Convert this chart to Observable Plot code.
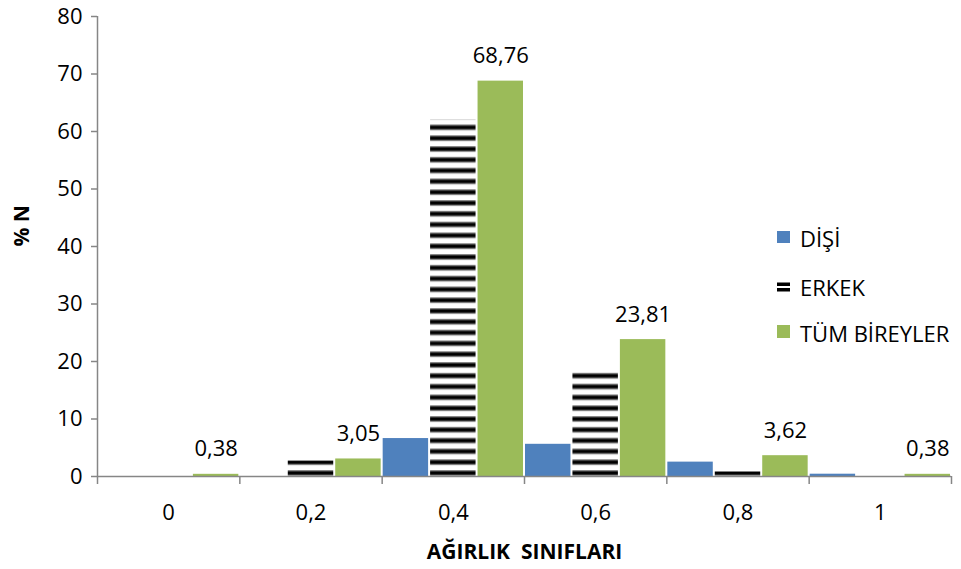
<!DOCTYPE html>
<html>
<head>
<meta charset="utf-8">
<script src="https://cdn.jsdelivr.net/npm/d3@7"></script>
<script src="https://cdn.jsdelivr.net/npm/@observablehq/plot@0.6"></script>
<style>
  body { margin: 0; background: #fff; font-family: "Open Sans", sans-serif; }
  #chart { position: relative; width: 961px; height: 569px; }
  .legend-swatch { position: absolute; left: 777px; }
  .legend-text { position: absolute; left: 800px; font-size: 22px; line-height: 24px; color: #000; white-space: nowrap; }
</style>
</head>
<body>
<div id="chart"></div>
<script>
// Weight classes (x axis) and the share of individuals (% N) in each class
const classes = ["0", "0,2", "0,4", "0,6", "0,8", "1"];
const seriesNames = ["DİŞİ", "ERKEK", "TÜM BİREYLER"];
const disi = [0, 0, 6.6, 5.6, 2.5, 0.4];
const erkek = [0, 2.7, 62, 18.5, 0.8, 0];
const tumBireyler = [0.38, 3.05, 68.76, 23.81, 3.62, 0.38];
const yTicks = [0, 10, 20, 30, 40, 50, 60, 70, 80];

const blue = "#4F81BD";
const green = "#9BBB59";
const axisGray = "#868686";

// one row per (class, series); each class is split into three equal slots
const rows = (values, si) => values.map((value, ci) => ({
  cls: classes[ci], ci, si, series: seriesNames[si], value,
  x1: ci + si / 3, x2: ci + (si + 1) / 3
}));
const disiRows = rows(disi, 0);
const erkekRows = rows(erkek, 1);
const tumRows = rows(tumBireyler, 2);

const barOpts = {x1: "x1", x2: "x2", y: "value", insetLeft: 1, insetRight: 1};
const fmt = v => v.toFixed(2).replace(".", ",");

const chart = Plot.plot({
  width: 961,
  height: 569,
  marginLeft: 97,
  marginRight: 10,
  marginTop: 16,
  marginBottom: 93,
  style: {fontFamily: '"Open Sans", sans-serif', fontSize: "22px", color: "#000", background: "#fff"},
  x: {domain: [0, classes.length], axis: null},
  y: {domain: [0, 80], axis: null},
  marks: [
    Plot.rectY(disiRows, {...barOpts, fill: blue}),
    Plot.rectY(erkekRows, {...barOpts, fill: "url(#erkek-stripes)"}),
    Plot.rectY(tumRows, {...barOpts, fill: green}),
    Plot.text(tumRows, {
      x: d => (d.x1 + d.x2) / 2, y: "value", text: d => fmt(d.value),
      dy: -25, lineAnchor: "middle", fill: "#000"
    }),
    // y axis
    Plot.ruleX([0], {stroke: axisGray, strokeWidth: 1.5}),
    Plot.axisY(yTicks, {tickSize: 6, tickPadding: 9, stroke: axisGray, strokeWidth: 1.5, fill: "#000", label: null}),
    // x axis: ticks on class boundaries, labels centred in each class
    Plot.ruleY([0], {stroke: axisGray, strokeWidth: 1.5}),
    Plot.axisX(d3.range(0, classes.length + 1), {tickSize: 8, stroke: axisGray, strokeWidth: 1.5, tickFormat: () => "", label: null}),
    Plot.axisX(classes.map((c, i) => i + 0.5), {tickSize: 0, tickPadding: 28, tickFormat: v => classes[Math.floor(v)], fill: "#000", label: null}),
    // axis titles
    Plot.text(["% N"], {frameAnchor: "left", rotate: -90, dx: -75, fontWeight: "bold", fontSize: 21, fill: "#000"}),
    Plot.text(["AĞIRLIK  SINIFLARI"], {frameAnchor: "bottom", dy: 76, lineAnchor: "middle", fontWeight: "bold", fontSize: 21, fill: "#000"})
  ]
});

// horizontal black/white stripes for the ERKEK series, phased so a black
// stripe sits right on the baseline
const period = 10.8;
const baseline = chart.scale("y").apply(0);
const defs = d3.select(chart).insert("defs", ":first-child");
const pat = defs.append("pattern")
  .attr("id", "erkek-stripes")
  .attr("patternUnits", "userSpaceOnUse")
  .attr("y", ((baseline - 6) % period + period) % period)
  .attr("width", 10)
  .attr("height", period);
pat.append("rect").attr("width", 10).attr("height", period).attr("fill", "#fff");
pat.append("rect").attr("y", 0).attr("width", 10).attr("height", 1.2).attr("fill", "#888");
pat.append("rect").attr("y", 1.2).attr("width", 10).attr("height", 3.6).attr("fill", "#000");
pat.append("rect").attr("y", 4.8).attr("width", 10).attr("height", 1.2).attr("fill", "#888");

const container = document.getElementById("chart");
container.appendChild(chart);

// legend inside the plot area
const legendItems = [
  {name: seriesNames[0], top: 226, swatch: `<svg width="13" height="12"><rect width="13" height="12" fill="${blue}"/></svg>`, swTop: 231},
  {name: seriesNames[1], top: 275, swatch: `<svg width="13" height="10"><rect width="13" height="10" fill="#fff"/><rect y="0.5" width="13" height="3.5" fill="#000"/><rect y="6" width="13" height="3.5" fill="#000"/></svg>`, swTop: 282},
  {name: seriesNames[2], top: 321, swatch: `<svg width="13" height="13"><rect width="13" height="13" fill="${green}"/></svg>`, swTop: 325}
];
for (const item of legendItems) {
  const sw = document.createElement("div");
  sw.className = "legend-swatch";
  sw.style.top = item.swTop + "px";
  sw.innerHTML = item.swatch;
  sw.firstChild.style.display = "block";
  container.appendChild(sw);
  const tx = document.createElement("div");
  tx.className = "legend-text";
  tx.style.top = item.top + "px";
  tx.textContent = item.name;
  container.appendChild(tx);
}
</script>
</body>
</html>
